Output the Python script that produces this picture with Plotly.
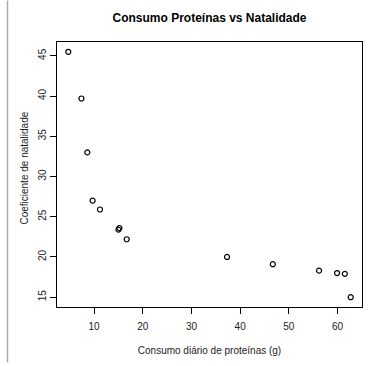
import plotly.graph_objects as go

# Daily protein consumption (g) and birth rate per country
proteinas = [4.7, 7.4, 8.6, 9.7, 11.2, 15.0, 15.2, 16.7, 37.3, 46.7, 56.2, 59.9, 61.5, 62.7]
natalidade = [45.5, 39.7, 33.0, 27.0, 25.9, 23.4, 23.6, 22.2, 20.0, 19.1, 18.3, 18.0, 17.9, 15.0]

titulo = "Consumo Proteínas vs Natalidade"
titulo_x = "Consumo diário de proteínas (g)"
titulo_y = "Coeficiente de natalidade"

W, H = 385, 366
ML, MR, MT, MB = 57, 23, 42, 56
font_family = "Liberation Sans, Arial, sans-serif"
plot_w = W - ML - MR
plot_h = H - MT - MB

def padded(vals, frac=0.04):
    lo, hi = min(vals), max(vals)
    d = (hi - lo) * frac
    return [lo - d, hi + d]

fig = go.Figure()
fig.add_trace(go.Scatter(
    x=proteinas, y=natalidade, mode="markers",
    marker=dict(symbol="circle-open", size=5, color="black", line=dict(width=1.2, color="black")),
    showlegend=False, hoverinfo="x+y",
))

axis_common = dict(
    showgrid=False, zeroline=False,
    showline=True, linecolor="black", linewidth=1, mirror=True,
    ticks="outside", ticklen=6, tickcolor="black", tickwidth=1,
    tickfont=dict(family=font_family, size=10, color="#222"),
)

fig.update_xaxes(
    range=padded(proteinas), tick0=0, dtick=10, ticklabelstandoff=4,
    title=dict(text=titulo_x, font=dict(family=font_family, size=10, color="#222"), standoff=15),
    **axis_common,
)
fig.update_yaxes(
    range=padded(natalidade), tick0=0, dtick=5, tickangle=-90,
    **axis_common,
)

# y-axis title placed as a rotated annotation
fig.add_annotation(
    text=titulo_y, textangle=-90, showarrow=False,
    xref="paper", yref="paper",
    x=(25 - ML) / plot_w, y=1 - (170 - MT) / plot_h,
    xanchor="center", yanchor="middle",
    font=dict(family=font_family, size=10, color="#222"),
)

# thin grey rule along the left edge of the canvas
xr = (7.5 - ML) / plot_w
fig.add_shape(type="line", xref="paper", yref="paper",
              x0=xr, x1=xr, y0=-MB / plot_h, y1=1 + MT / plot_h,
              line=dict(color="#aaaaaa", width=1.5))

fig.update_layout(
    width=W, height=H,
    margin=dict(l=ML, r=MR, t=MT, b=MB),
    paper_bgcolor="white", plot_bgcolor="white",
    title=dict(text="<b>" + titulo + "</b>", x=(ML + plot_w / 2) / W, xanchor="center",
               y=1 - 18 / H, yanchor="middle",
               font=dict(family=font_family, size=12, color="black")),
    font=dict(family=font_family),
)

fig.write_html("out.html")
